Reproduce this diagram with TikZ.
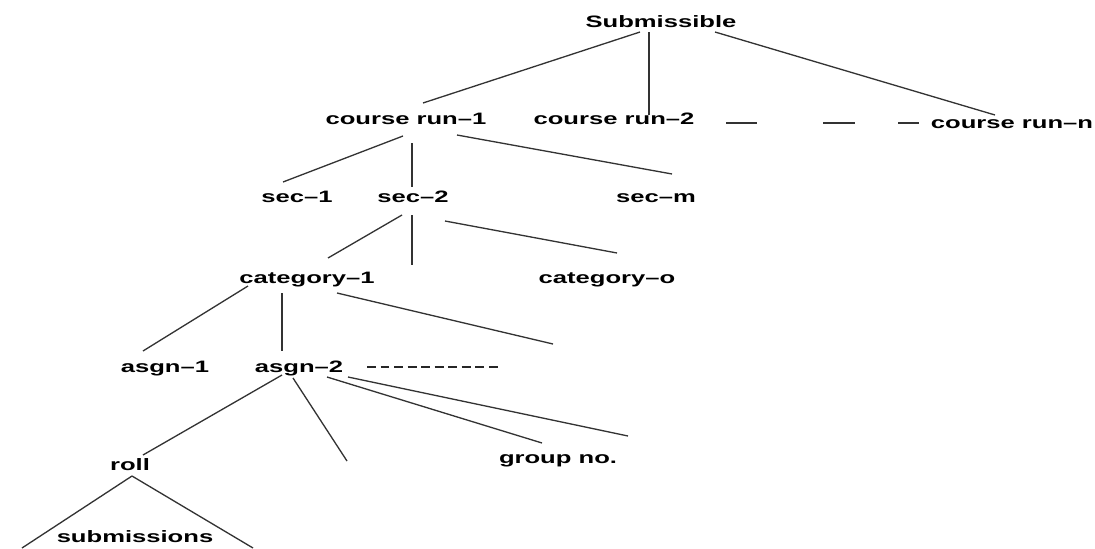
\documentclass[tikz,border=0pt]{standalone}
\usepackage{fontspec}
\setmainfont{Liberation Sans}
\usetikzlibrary{calc}
\begin{document}
\begin{tikzpicture}[x=0.02cm, y=-0.02cm,
    every node/.style={font=\bfseries\fontsize{9.4}{11}\selectfont, inner sep=0pt, anchor=base, xscale=1.55},
    ln/.style={line width=.75pt, black!80},
    dashln/.style={line width=1pt, black!85, dash pattern=on 5.1pt off 2.6pt}]
  \useasboundingbox (0,0) rectangle (1095,548);
  % nodes, placed at their baselines
  \node (sub)  at (661,27)  {Submissible};
  \node (cr1)  at (406,124) {course run--1};
  \node (cr2)  at (614,124) {course run--2};
  \node (crn)  at (1012,128) {course run--n};
  \node (sec1) at (297,202) {sec--1};
  \node (sec2) at (413,202) {sec--2};
  \node (secm) at (656,202) {sec--m};
  \node (cat1) at (307,283) {category--1};
  \node (cato) at (607,283) {category--o};
  \node (as1)  at (165,372) {asgn--1};
  \node (as2)  at (299,372) {asgn--2};
  \node (roll) at (130,470) {roll};
  \node (grp)  at (558,463) {group no.};
  \node (subm) at (135,542) {submissions};
  % loose ends
  \coordinate (f1) at (412,265);
  \coordinate (f2) at (553,344);
  \coordinate (f3) at (347,461);
  \coordinate (f4) at (628,436);
  \coordinate (f5) at (22,548);
  \coordinate (f6) at (253,548);
  % Submissible
  \draw[ln] ($(sub.base)+(-21,5)$) -- ($(cr1.base)+(17,-21)$);
  \draw[ln] ($(sub.base)+(-12,5)$) -- ($(cr2.base)+(35,-9)$);
  \draw[ln] ($(sub.base)+(54,5)$) -- ($(crn.base)+(-17,-13)$);
  \draw[ln] ($(cr2.base)+(112,-1)$) -- ($(cr2.base)+(143,-1)$);
  \draw[ln] ($(cr2.base)+(209,-1)$) -- ($(cr2.base)+(241,-1)$);
  \draw[ln] ($(cr2.base)+(284,-1)$) -- ($(cr2.base)+(305,-1)$);
  % course run-1
  \draw[ln] ($(cr1.base)+(-3,12)$) -- ($(sec1.base)+(-14,-20)$);
  \draw[ln] ($(cr1.base)+(6,19)$) -- ($(sec2.base)+(-1,-15)$);
  \draw[ln] ($(cr1.base)+(51,11)$) -- ($(secm.base)+(16,-28)$);
  % sec-2
  \draw[ln] ($(sec2.base)+(-11,13)$) -- ($(cat1.base)+(21,-25)$);
  \draw[ln] ($(sec2.base)+(-1,13)$) -- (f1);
  \draw[ln] ($(sec2.base)+(32,19)$) -- ($(cato.base)+(10,-30)$);
  % category-1
  \draw[ln] ($(cat1.base)+(-59,3)$) -- ($(as1.base)+(-22,-21)$);
  \draw[ln] ($(cat1.base)+(-25,10)$) -- ($(as2.base)+(-17,-21)$);
  \draw[ln] ($(cat1.base)+(30,10)$) -- (f2);
  % asgn-2
  \draw[dashln] ($(as2.base)+(68,-5)$) -- ($(as2.base)+(203,-5)$);
  \draw[ln] ($(as2.base)+(-17,3)$) -- ($(roll.base)+(13,-15)$);
  \draw[ln] ($(as2.base)+(-6,6)$) -- (f3);
  \draw[ln] ($(as2.base)+(28,5)$) -- ($(grp.base)+(-16,-20)$);
  \draw[ln] ($(as2.base)+(49,5)$) -- (f4);
  % roll
  \draw[ln] ($(roll.base)+(2,6)$) -- (f5);
  \draw[ln] ($(roll.base)+(2,6)$) -- (f6);
\end{tikzpicture}
\end{document}
